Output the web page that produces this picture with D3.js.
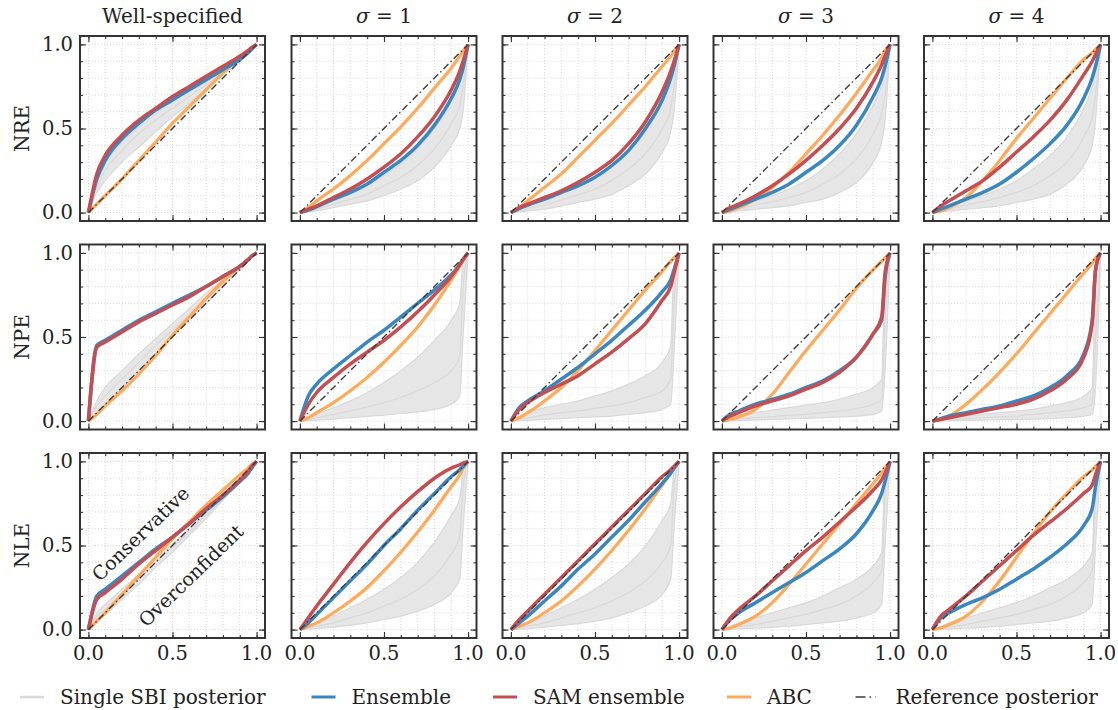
<!DOCTYPE html>
<html lang="en">
<head>
<meta charset="UTF-8">
<title>Coverage</title>
<script src="https://d3js.org/d3.v7.min.js"></script>
<style>
  body { margin: 0; background: #fff; }
  text { font-family: "DejaVu Serif", serif; fill: #222; }
</style>
</head>
<body>
<script>
// credibility levels shared by every curve
const levels = [0, 0.05, 0.1, 0.2, 0.3, 0.4, 0.5, 0.6, 0.7, 0.8, 0.9, 0.95, 0.97, 1];

const rowNames = ["NRE", "NPE", "NLE"];
const colNames = ["Well-specified", "1", "2", "3", "4"];
const tickLabels = ["0.0", "0.5", "1.0"];

// expected coverage, [row][col]
const ensemble = [
  [[0,0.2,0.31,0.44,0.53,0.61,0.67,0.73,0.79,0.85,0.91,0.95,0.97,1],
   [0,0.015,0.035,0.08,0.12,0.17,0.24,0.31,0.4,0.52,0.68,0.79,0.86,1],
   [0,0.025,0.045,0.08,0.12,0.16,0.21,0.28,0.37,0.5,0.67,0.8,0.87,1],
   [0,0.02,0.04,0.08,0.12,0.17,0.24,0.31,0.4,0.52,0.69,0.8,0.87,1],
   [0,0.02,0.04,0.08,0.12,0.17,0.24,0.32,0.41,0.52,0.68,0.8,0.87,1]],
  [[0,0.45,0.48,0.54,0.6,0.65,0.7,0.75,0.8,0.86,0.92,0.96,0.98,1],
   [0,0.15,0.22,0.31,0.39,0.47,0.54,0.62,0.7,0.78,0.87,0.93,0.96,1],
   [0,0.08,0.12,0.18,0.25,0.32,0.4,0.48,0.57,0.66,0.77,0.84,0.9,1],
   [0,0.04,0.06,0.1,0.13,0.16,0.2,0.24,0.3,0.38,0.52,0.6,0.85,1],
   [0,0.015,0.03,0.05,0.07,0.09,0.12,0.15,0.2,0.27,0.4,0.6,0.9,1]],
  [[0,0.2,0.24,0.32,0.4,0.48,0.55,0.63,0.71,0.79,0.88,0.93,0.96,1],
   [0,0.04,0.09,0.19,0.29,0.39,0.5,0.6,0.71,0.81,0.91,0.95,0.97,1],
   [0,0.04,0.08,0.17,0.26,0.36,0.45,0.55,0.65,0.76,0.87,0.93,0.96,1],
   [0,0.06,0.1,0.16,0.22,0.28,0.34,0.41,0.48,0.57,0.71,0.81,0.88,1],
   [0,0.07,0.1,0.15,0.19,0.24,0.3,0.36,0.43,0.51,0.62,0.72,0.85,1]]
];

const samEnsemble = [
  [[0,0.23,0.34,0.46,0.55,0.62,0.69,0.75,0.81,0.87,0.93,0.965,0.98,1],
   [0,0.02,0.04,0.09,0.14,0.2,0.27,0.35,0.45,0.57,0.73,0.84,0.9,1],
   [0,0.03,0.05,0.09,0.13,0.18,0.24,0.31,0.41,0.54,0.72,0.84,0.9,1],
   [0,0.03,0.05,0.1,0.16,0.23,0.31,0.4,0.5,0.62,0.78,0.88,0.93,1],
   [0,0.04,0.07,0.13,0.19,0.27,0.36,0.45,0.55,0.67,0.82,0.9,0.94,1]],
  [[0,0.44,0.47,0.53,0.59,0.64,0.69,0.74,0.8,0.86,0.92,0.96,0.98,1],
   [0,0.1,0.17,0.26,0.34,0.41,0.48,0.56,0.65,0.75,0.86,0.93,0.96,1],
   [0,0.07,0.11,0.17,0.22,0.27,0.34,0.41,0.49,0.58,0.72,0.8,0.88,1],
   [0,0.03,0.05,0.09,0.12,0.15,0.19,0.23,0.29,0.38,0.52,0.62,0.88,1],
   [0,0.01,0.02,0.04,0.06,0.08,0.1,0.13,0.18,0.25,0.38,0.58,0.9,1]],
  [[0,0.18,0.22,0.3,0.39,0.47,0.55,0.63,0.72,0.8,0.89,0.94,0.97,1],
   [0,0.07,0.14,0.27,0.4,0.52,0.63,0.73,0.82,0.9,0.96,0.98,0.99,1],
   [0,0.06,0.11,0.21,0.31,0.41,0.51,0.61,0.71,0.81,0.91,0.95,0.97,1],
   [0,0.07,0.12,0.2,0.29,0.38,0.47,0.55,0.64,0.73,0.83,0.89,0.93,1],
   [0,0.08,0.12,0.2,0.29,0.38,0.47,0.56,0.64,0.72,0.81,0.86,0.92,1]]
];

const abc = [
  [[0,0.05,0.1,0.2,0.31,0.42,0.53,0.63,0.73,0.83,0.92,0.96,0.98,1],
   [0,0.03,0.07,0.14,0.22,0.31,0.41,0.51,0.62,0.74,0.86,0.93,0.96,1],
   [0,0.03,0.07,0.15,0.23,0.33,0.43,0.53,0.64,0.75,0.87,0.93,0.96,1],
   [0,0.01,0.03,0.08,0.15,0.24,0.35,0.46,0.58,0.71,0.85,0.92,0.96,1],
   [0,0.01,0.03,0.09,0.19,0.31,0.44,0.56,0.68,0.8,0.91,0.95,0.97,1]],
  [[0,0.04,0.09,0.18,0.28,0.39,0.51,0.62,0.73,0.83,0.92,0.96,0.98,1],
   [0,0.02,0.05,0.11,0.18,0.26,0.35,0.45,0.56,0.69,0.84,0.92,0.96,1],
   [0,0.02,0.05,0.12,0.2,0.3,0.42,0.54,0.66,0.78,0.89,0.95,0.97,1],
   [0,0.01,0.025,0.07,0.16,0.29,0.42,0.54,0.66,0.79,0.9,0.95,0.97,1],
   [0,0.01,0.03,0.1,0.19,0.29,0.4,0.52,0.64,0.76,0.88,0.94,0.97,1]],
  [[0,0.05,0.1,0.21,0.32,0.43,0.54,0.64,0.74,0.83,0.92,0.96,0.98,1],
   [0,0.02,0.04,0.1,0.17,0.25,0.35,0.46,0.58,0.71,0.85,0.92,0.96,1],
   [0,0.02,0.04,0.1,0.17,0.26,0.36,0.47,0.59,0.72,0.86,0.93,0.96,1],
   [0,0.01,0.03,0.08,0.16,0.27,0.39,0.51,0.63,0.75,0.87,0.93,0.96,1],
   [0,0.01,0.03,0.08,0.17,0.29,0.43,0.57,0.7,0.81,0.91,0.95,0.97,1]]
];

// single SBI posteriors: lowest, middle and highest of the bundle
const singleLow = [
  [[0,0.12,0.19,0.3,0.39,0.48,0.57,0.65,0.74,0.82,0.9,0.95,0.97,1],
   [0,0.005,0.01,0.03,0.05,0.07,0.1,0.14,0.19,0.27,0.4,0.5,0.6,1],
   [0,0.005,0.01,0.02,0.04,0.06,0.08,0.11,0.16,0.23,0.36,0.48,0.6,1],
   [0,0.005,0.01,0.02,0.03,0.04,0.06,0.08,0.12,0.18,0.3,0.42,0.55,1],
   [0,0.005,0.01,0.02,0.03,0.04,0.06,0.08,0.11,0.17,0.28,0.4,0.55,1]],
  [[0,0.05,0.1,0.2,0.3,0.4,0.5,0.6,0.7,0.8,0.9,0.95,0.97,1],
   [0,0.003,0.006,0.012,0.02,0.028,0.036,0.045,0.055,0.07,0.1,0.15,0.5,1],
   [0,0.003,0.005,0.01,0.015,0.02,0.025,0.03,0.04,0.05,0.07,0.1,0.4,1],
   [0,0.002,0.004,0.007,0.01,0.013,0.016,0.02,0.025,0.03,0.04,0.06,0.3,1],
   [0,0.001,0.002,0.004,0.006,0.008,0.01,0.012,0.015,0.02,0.03,0.04,0.2,1]],
  [[0,0.05,0.09,0.18,0.27,0.37,0.46,0.56,0.66,0.77,0.88,0.94,0.97,1],
   [0,0.003,0.006,0.015,0.025,0.04,0.06,0.08,0.11,0.15,0.22,0.3,0.6,1],
   [0,0.003,0.006,0.015,0.025,0.035,0.05,0.07,0.1,0.14,0.21,0.3,0.6,1],
   [0,0.002,0.004,0.008,0.013,0.02,0.03,0.04,0.05,0.07,0.1,0.15,0.5,1],
   [0,0.002,0.004,0.008,0.013,0.02,0.03,0.04,0.05,0.07,0.1,0.15,0.5,1]]
];

const singleMid = [
  [[0,0.15,0.25,0.37,0.47,0.55,0.62,0.69,0.76,0.83,0.9,0.95,0.97,1],
   [0,0.01,0.02,0.05,0.08,0.11,0.16,0.21,0.28,0.38,0.53,0.64,0.75,1],
   [0,0.012,0.025,0.045,0.075,0.105,0.14,0.19,0.26,0.35,0.5,0.62,0.75,1],
   [0,0.012,0.022,0.045,0.065,0.09,0.12,0.17,0.23,0.32,0.47,0.59,0.7,1],
   [0,0.012,0.022,0.045,0.065,0.09,0.12,0.16,0.22,0.3,0.45,0.57,0.7,1]],
  [[0,0.09,0.15,0.25,0.35,0.45,0.54,0.63,0.73,0.82,0.91,0.95,0.97,1],
   [0,0.01,0.02,0.04,0.06,0.085,0.11,0.14,0.18,0.23,0.3,0.38,0.8,1],
   [0,0.01,0.02,0.035,0.05,0.06,0.075,0.09,0.11,0.14,0.18,0.25,0.7,1],
   [0,0.006,0.012,0.02,0.027,0.034,0.04,0.05,0.06,0.075,0.1,0.13,0.6,1],
   [0,0.005,0.01,0.015,0.02,0.025,0.03,0.04,0.05,0.06,0.08,0.1,0.5,1]],
  [[0,0.08,0.12,0.21,0.3,0.4,0.49,0.58,0.68,0.78,0.89,0.94,0.97,1],
   [0,0.01,0.02,0.04,0.07,0.1,0.14,0.18,0.24,0.32,0.45,0.55,0.85,1],
   [0,0.01,0.02,0.04,0.07,0.1,0.13,0.17,0.22,0.29,0.4,0.5,0.85,1],
   [0,0.008,0.016,0.03,0.05,0.07,0.09,0.12,0.15,0.2,0.28,0.35,0.8,1],
   [0,0.008,0.016,0.03,0.05,0.07,0.09,0.12,0.15,0.2,0.28,0.35,0.8,1]]
];

const singleHigh = [
  [[0,0.18,0.29,0.42,0.51,0.59,0.66,0.72,0.78,0.84,0.9,0.95,0.97,1],
   [0,0.015,0.03,0.07,0.11,0.16,0.22,0.29,0.38,0.5,0.66,0.78,0.85,1],
   [0,0.02,0.04,0.07,0.11,0.15,0.2,0.27,0.36,0.48,0.65,0.77,0.85,1],
   [0,0.02,0.035,0.07,0.1,0.14,0.19,0.26,0.35,0.47,0.64,0.76,0.84,1],
   [0,0.02,0.035,0.07,0.1,0.14,0.19,0.26,0.34,0.45,0.62,0.75,0.84,1]],
  [[0,0.12,0.2,0.3,0.4,0.49,0.58,0.67,0.76,0.84,0.92,0.96,0.98,1],
   [0,0.02,0.04,0.08,0.12,0.17,0.23,0.3,0.38,0.48,0.6,0.7,0.95,1],
   [0,0.03,0.05,0.08,0.1,0.12,0.15,0.18,0.22,0.27,0.35,0.45,0.92,1],
   [0,0.015,0.03,0.05,0.065,0.08,0.095,0.11,0.13,0.16,0.2,0.25,0.9,1],
   [0,0.01,0.02,0.03,0.04,0.05,0.06,0.07,0.09,0.11,0.15,0.2,0.85,1]],
  [[0,0.1,0.15,0.24,0.33,0.42,0.51,0.6,0.7,0.8,0.9,0.95,0.97,1],
   [0,0.02,0.04,0.08,0.13,0.18,0.24,0.31,0.4,0.52,0.68,0.78,0.95,1],
   [0,0.02,0.04,0.08,0.13,0.18,0.24,0.31,0.39,0.5,0.65,0.75,0.95,1],
   [0,0.02,0.04,0.07,0.1,0.13,0.16,0.2,0.25,0.3,0.38,0.46,0.95,1],
   [0,0.02,0.04,0.07,0.1,0.13,0.16,0.2,0.25,0.3,0.38,0.46,0.95,1]]
];

const colors = { single: "#d9d9d9", ensemble: "#3a87c0", sam: "#c44e52", abc: "#ffa95a", ref: "#3d3d3d" };

const W = 1118, H = 710;
const size = 185;
const lefts = [80, 291.5, 502.5, 713.5, 924];
const tops = [36, 244.5, 453];

const svg = d3.select("body").append("svg")
    .attr("width", W)
    .attr("height", H);

const x = d3.scaleLinear().domain([-0.05, 1.05]).range([0, size]);
const y = d3.scaleLinear().domain([-0.05, 1.05]).range([size, 0]);

const line = d3.line()
    .x((d, i) => x(levels[i]))
    .y(d => y(d))
    .curve(d3.curveMonotoneX);

const band = d3.area()
    .x((d, i) => x(levels[i]))
    .y0(d => y(d[0]))
    .y1(d => y(d[1]))
    .curve(d3.curveMonotoneX);

const gridVals = d3.range(0, 11).map(i => i / 10);

rowNames.forEach((rowName, r) => {
  colNames.forEach((colName, c) => {
    const g = svg.append("g").attr("transform", `translate(${lefts[c]},${tops[r]})`);

    // dotted grid
    g.selectAll(".gx").data(gridVals).join("line")
        .attr("x1", d => x(d)).attr("x2", d => x(d))
        .attr("y1", 0).attr("y2", size)
        .attr("stroke", "#cfcfcf").attr("stroke-width", 0.8)
        .attr("stroke-dasharray", "1,2");
    g.selectAll(".gy").data(gridVals).join("line")
        .attr("y1", d => y(d)).attr("y2", d => y(d))
        .attr("x1", 0).attr("x2", size)
        .attr("stroke", "#cfcfcf").attr("stroke-width", 0.8)
        .attr("stroke-dasharray", "1,2");

    // single SBI bundle
    const lo = singleLow[r][c], mid = singleMid[r][c], hi = singleHigh[r][c];
    g.append("path")
        .datum(lo.map((v, i) => [v, hi[i]]))
        .attr("d", band)
        .attr("fill", "#e6e6e6");
    [lo, mid, hi].forEach(s => {
      g.append("path").datum(s).attr("d", line)
          .attr("fill", "none").attr("stroke", colors.single)
          .attr("stroke-width", 1.2);
    });

    g.append("path").datum(abc[r][c]).attr("d", line)
        .attr("fill", "none").attr("stroke", colors.abc).attr("stroke-width", 3.2);
    g.append("path").datum(ensemble[r][c]).attr("d", line)
        .attr("fill", "none").attr("stroke", colors.ensemble).attr("stroke-width", 3.5);
    g.append("path").datum(samEnsemble[r][c]).attr("d", line)
        .attr("fill", "none").attr("stroke", colors.sam).attr("stroke-width", 3.5);

    // reference posterior: the diagonal
    g.append("line")
        .attr("x1", x(0)).attr("y1", y(0)).attr("x2", x(1)).attr("y2", y(1))
        .attr("stroke", colors.ref).attr("stroke-width", 1.4)
        .attr("stroke-dasharray", "7,3,1.5,3");

    // inward ticks on all sides
    const axes = [
      d3.axisBottom(x).tickValues([0, 0.5, 1]).tickSize(-6).tickFormat(""),
      d3.axisTop(x).tickValues([0, 0.5, 1]).tickSize(-6).tickFormat(""),
      d3.axisLeft(y).tickValues([0, 0.5, 1]).tickSize(-6).tickFormat(""),
      d3.axisRight(y).tickValues([0, 0.5, 1]).tickSize(-6).tickFormat(""),
      d3.axisBottom(x).tickValues(gridVals).tickSize(-3).tickFormat(""),
      d3.axisTop(x).tickValues(gridVals).tickSize(-3).tickFormat(""),
      d3.axisLeft(y).tickValues(gridVals).tickSize(-3).tickFormat(""),
      d3.axisRight(y).tickValues(gridVals).tickSize(-3).tickFormat("")
    ];
    const shifts = ["0," + size, "0,0", "0,0", size + ",0"];
    axes.forEach((ax, k) => {
      const a = g.append("g").attr("transform", `translate(${shifts[k % 4]})`).call(ax);
      a.select(".domain").remove();
      a.selectAll("line").attr("stroke", "#333").attr("stroke-width", 1.1);
    });

    g.append("rect")
        .attr("width", size).attr("height", size)
        .attr("fill", "none").attr("stroke", "#333").attr("stroke-width", 2);

    if (c === 0) {
      g.selectAll(".yl").data([0, 0.5, 1]).join("text")
          .attr("x", -7).attr("y", d => y(d)).attr("dy", "0.35em")
          .attr("text-anchor", "end").attr("font-size", 19.5)
          .text((d, i) => tickLabels[i]);
      g.append("text")
          .attr("transform", `translate(-58,${size / 2}) rotate(-90)`)
          .attr("text-anchor", "middle").attr("dy", "0.35em")
          .attr("font-size", 20).text(rowName);
    }
    if (r === 2) {
      g.selectAll(".xl").data([0, 0.5, 1]).join("text")
          .attr("x", d => x(d)).attr("y", size + 22)
          .attr("text-anchor", "middle").attr("font-size", 19.5)
          .text((d, i) => tickLabels[i]);
    }
    if (r === 0) {
      const t = g.append("text")
          .attr("x", size / 2).attr("y", -13)
          .attr("text-anchor", "middle").attr("font-size", 20);
      if (c === 0) {
        t.text(colName);
      } else {
        t.append("tspan").attr("font-style", "italic").text("σ");
        t.append("tspan").text(" = " + colName);
      }
    }
    if (r === 2 && c === 0) {
      g.append("text")
          .attr("transform", `translate(${x(0.31)},${y(0.57)}) rotate(-44)`)
          .attr("text-anchor", "middle").attr("dy", "0.35em")
          .attr("font-size", 19).text("Conservative");
      g.append("text")
          .attr("transform", `translate(${x(0.61)},${y(0.32)}) rotate(-44)`)
          .attr("text-anchor", "middle").attr("dy", "0.35em")
          .attr("font-size", 19).text("Overconfident");
    }
  });
});

// legend
const legendItems = [
  { label: "Single SBI posterior", color: colors.single, w: 2.5, dash: null, x: 20, len: 24 },
  { label: "Ensemble", color: colors.ensemble, w: 3, dash: null, x: 311.5, len: 24 },
  { label: "SAM ensemble", color: colors.sam, w: 3, dash: null, x: 493, len: 24 },
  { label: "ABC", color: colors.abc, w: 3, dash: null, x: 727, len: 24 },
  { label: "Reference posterior", color: colors.ref, w: 1.4, dash: "10,4,1.5,4", x: 855.5, len: 20 }
];
const leg = svg.append("g").attr("transform", "translate(0,697)");
legendItems.forEach(it => {
  leg.append("line")
      .attr("x1", it.x).attr("x2", it.x + it.len)
      .attr("stroke", it.color).attr("stroke-width", it.w)
      .attr("stroke-dasharray", it.dash);
  leg.append("text")
      .attr("x", it.x + 40).attr("dy", "0.35em")
      .attr("font-size", 20).text(it.label);
});
</script>
</body>
</html>
